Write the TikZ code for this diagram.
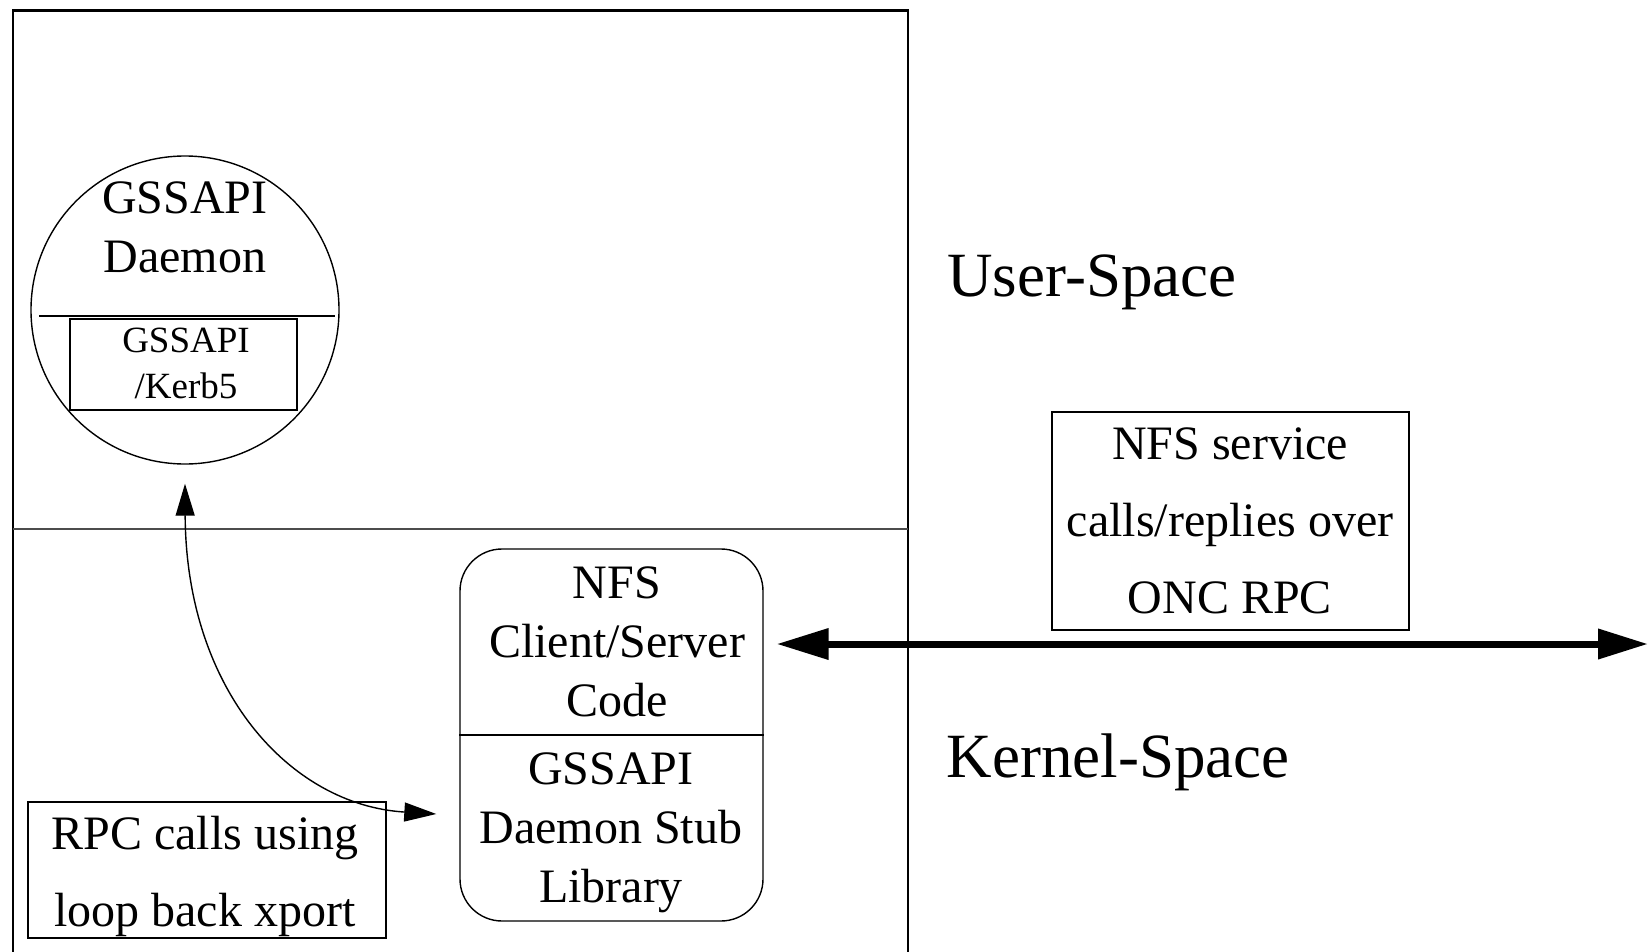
\documentclass[tikz,border=0pt]{standalone}
\usepackage{fontspec}
\setmainfont{Liberation Serif}
\usetikzlibrary{arrows.meta}
\begin{document}
\begin{tikzpicture}[x=1pt,y=-1pt,
  txt/.style={align=center,inner sep=0pt,font=\fontsize{48}{59}\selectfont},
  txtwide/.style={align=center,inner sep=0pt,font=\fontsize{48}{77}\selectfont},
  small/.style={align=center,inner sep=0pt,font=\fontsize{37}{46}\selectfont},
  big/.style={inner sep=0pt,font=\fontsize{63}{70}\selectfont},
  thinline/.style={line width=1.4pt},
  box/.style={draw,thinline,inner sep=0pt},
  thinarrow/.style={line width=1.4pt,{Triangle[length=32pt,width=19pt]}-{Triangle[length=32pt,width=19pt]}},
  thickarrow/.style={line width=7pt,{Triangle[length=52pt,width=30pt]}-{Triangle[length=50pt,width=29pt]}}
]
\useasboundingbox (0,0) rectangle (1648,952);
% outer frame (open at the bottom)
\draw[line width=2.5pt] (13,952) -- (13,10.5) -- (908,10.5) -- (908,952);
\draw[line width=2.5pt,draw=black!70] (13,529) -- (908,529);
% daemon circle
\node[circle,draw,thinline,minimum size=308pt,inner sep=0pt] (daemon) at (185,310) {};
\node[txt] (dtext) at (185,227) {GSSAPI\\Daemon};
\draw[thinline] (39,316) -- (335,316);
\node[box,minimum width=227pt,minimum height=91pt] (kerb) at (183.5,364.5) {};
\node[small] (ktext) at (186,363) {GSSAPI\\/Kerb5};
% NFS client/server code
\node[box,rounded corners=42pt,minimum width=303pt,minimum height=372pt] (nfs) at (611.5,735) {};
\draw[thinline] (nfs.west) -- (nfs.east);
\node[txt] (nfsup) at (617,642) {NFS\\Client/Server\\Code};
\node[txt] (nfslow) at (611,833) {GSSAPI\\Daemon Stub\\Library};
% NFS service box
\node[box,minimum width=357pt,minimum height=218pt] (svc) at (1230.5,521) {};
\node[txtwide] (svctext) at (1230,520.5) {NFS service\\calls/replies over\\ONC RPC};
% RPC box
\node[box,minimum width=358pt,minimum height=136pt] (rpc) at (207,870) {};
\node[txtwide] (rpctext) at (205,876) {RPC calls using\\loop back xport};
% labels
\node[big] (user) at (1092,282) {User-Space};
\node[big] (kernel) at (1118,762) {Kernel-Space};
% connectors
\coordinate (ctop) at ([yshift=-19pt]daemon.south);
\coordinate (cend) at ([xshift=-23pt]nfs.west |- 0,814);
\draw[thinarrow] (ctop) .. controls (186,690) and (290,805) .. (cend);
\coordinate (aleft) at ([xshift=13pt]nfs.east |- 0,644);
\coordinate (aright) at (1648,644);
\draw[thickarrow] (aleft) -- (aright);
\end{tikzpicture}
\end{document}
